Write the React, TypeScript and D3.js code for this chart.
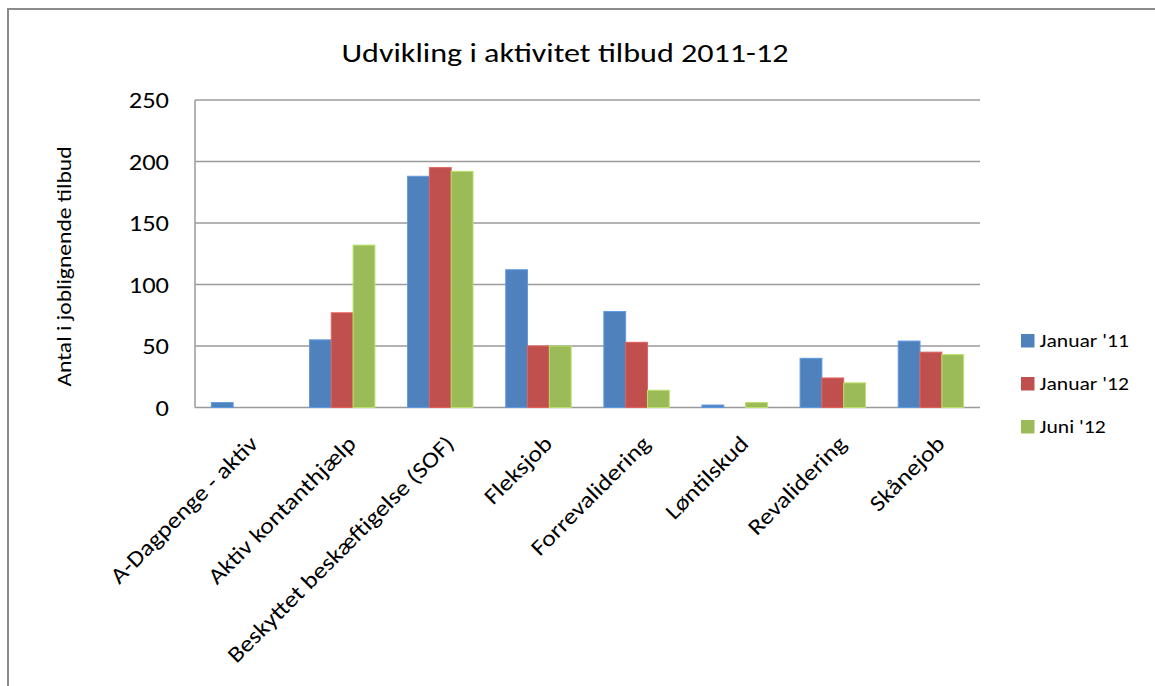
import React from "react";
import * as d3 from "d3";

const categories = [
  "A-Dagpenge - aktiv",
  "Aktiv kontanthjælp",
  "Beskyttet beskæftigelse (SOF)",
  "Fleksjob",
  "Forrevalidering",
  "Løntilskud",
  "Revalidering",
  "Skånejob",
];
const seriesNames = ["Januar '11", "Januar '12", "Juni '12"];
const januar11 = [4, 55, 188, 112, 78, 2, 40, 54];
const januar12 = [0, 77, 195, 50, 53, 0, 24, 45];
const juni12 = [0, 132, 192, 50, 14, 4, 20, 43];
const seriesColors = ["#4F81BD", "#C0504D", "#9BBB59"];
const yTicks = [0, 50, 100, 150, 200, 250];
const title = "Udvikling i aktivitet tilbud 2011-12";
const yTitle = "Antal i joblignende tilbud";

const FONT = "Calibri, Carlito, Lato, 'Open Sans', sans-serif";
const SX = 1.15;

export default function App() {
  const W = 1155;
  const H = 686;
  const left = 195, right = 980, top = 100, bottom = 407.5;
  const values = [januar11, januar12, juni12];

  const x0 = d3.scaleBand<string>().domain(categories).range([left, right]).padding(0);
  const bw = x0.bandwidth();
  const gap = (bw / 4.5) * 0.75;
  const x1 = d3.scaleBand<string>().domain(seriesNames).range([gap, bw - gap]).padding(0);
  const y = d3.scaleLinear().domain([0, 250]).range([bottom, top]);

  return (
    <svg width={W} height={H} style={{ position: "absolute", left: 0, top: 0, background: "#fff" }}>
      <rect x={8} y={9} width={1200} height={800} fill="#fff" stroke="#8c8c8c" strokeWidth={2} />
      <text
        x={565}
        y={62}
        textAnchor="middle"
        fontFamily={FONT}
        fontSize={27}
        fill="#000"
        textLength={447}
        lengthAdjust="spacingAndGlyphs"
      >
        {title}
      </text>
      {yTicks.map((t) => (
        <g key={t}>
          <line x1={left} x2={right} y1={y(t)} y2={y(t)} stroke="#9a9a9a" strokeWidth={1.5} />
          <text
            transform={`translate(169, ${y(t)}) scale(${SX}, 1)`}
            dy="0.36em"
            textAnchor="end"
            fontFamily={FONT}
            fontSize={23}
            fill="#000"
          >
            {t}
          </text>
        </g>
      ))}
      <line x1={left} x2={left} y1={top} y2={bottom} stroke="#9a9a9a" strokeWidth={1.5} />
      <text
        transform={`translate(71, 266.5) rotate(-90) scale(${SX}, 1)`}
        textAnchor="middle"
        fontFamily={FONT}
        fontSize={20.5}
        fill="#000"
      >
        {yTitle}
      </text>
      {values.map((vals, si) =>
        vals.map((v, ci) => {
          const xPos = (x0(categories[ci]) as number) + (x1(seriesNames[si]) as number);
          const c = seriesColors[si];
          if (v <= 0) return null;
          return (
            <rect
              key={`${si}-${ci}`}
              x={xPos}
              y={y(v)}
              width={x1.bandwidth()}
              height={bottom - y(v)}
              fill={c}
              stroke={d3.color(c)!.brighter(0.5).toString()}
              strokeWidth={1}
            />
          );
        })
      )}
      {categories.map((c) => {
        const cx = (x0(c) as number) + bw / 2;
        return (
          <text
            key={c}
            transform={`translate(${cx + 4}, 434) rotate(-45) scale(${SX}, 1)`}
            textAnchor="end"
            dy="0.7em"
            fontFamily={FONT}
            fontSize={22.5}
            fill="#000"
          >
            {c}
          </text>
        );
      })}
      {seriesNames.map((s, i) => (
        <g key={s} transform={`translate(1021, ${334 + i * 43})`}>
          <rect x={0} y={0} width={13.5} height={13.5} fill={seriesColors[i]} />
          <text
            transform={`translate(18.5, 13) scale(${SX + 0.02}, 1)`}
            fontFamily={FONT}
            fontSize={18.5}
            fill="#000"
          >
            {s}
          </text>
        </g>
      ))}
    </svg>
  );
}
